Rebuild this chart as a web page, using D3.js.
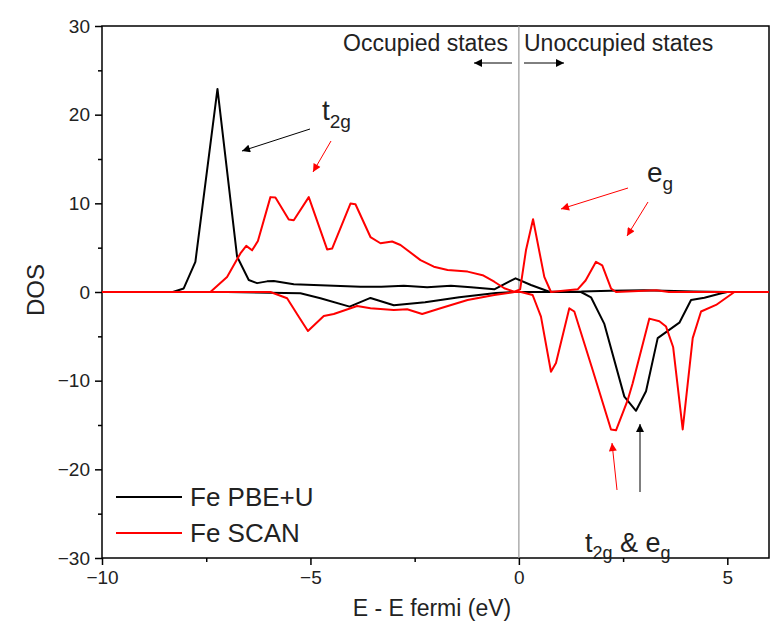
<!DOCTYPE html>
<html><head><meta charset="utf-8">
<script src="https://cdn.jsdelivr.net/npm/d3@7"></script>
<style>body{margin:0;background:#fff;} svg{display:block;} text{font-family:"Liberation Sans",Arial,sans-serif;}</style>
</head><body><svg id="c" width="771" height="643"></svg>
<script>
// ---- data (energy in eV, DOS) ----
const pbeUpE = [-10,-8.3,-8.04,-7.76,-7.23,-6.76,-6.48,-6.28,-6.04,-5.88,-5.4,-4.76,-3.8,-3.3,-2.76,-2.2,-1.63,-1.15,-0.59,-0.08,0.29,0.73,1.5,2.2,3.0,3.5,4.2,5.0,6];
const pbeUp  = [0,0,0.4,3.4,22.9,4.0,1.35,1.0,1.2,1.24,0.87,0.75,0.6,0.6,0.71,0.53,0.71,0.53,0.3,1.54,0.79,0.03,0.05,0.15,0.2,0.15,0.05,0,0];
const pbeDnE = [-10,-7.0,-5.24,-4.76,-4.06,-3.56,-3.0,-2.25,-1.43,-0.55,-0.1,1.49,1.73,2.05,2.53,2.81,3.05,3.33,3.85,4.13,4.45,4.86,5.0,6];
const pbeDn  = [0,0,-0.15,-0.7,-1.65,-0.67,-1.5,-1.16,-0.58,-0.1,0,0,-0.6,-3.6,-11.8,-13.4,-11.2,-5.2,-3.46,-0.9,-0.64,-0.15,0,0];
const scanUpE = [-10,-7.4,-7.0,-6.68,-6.54,-6.4,-6.26,-5.96,-5.84,-5.52,-5.4,-5.04,-4.6,-4.48,-4.04,-3.92,-3.56,-3.32,-3.04,-2.84,-2.36,-2.04,-1.71,-1.23,-0.87,-0.59,-0.35,-0.11,0.03,0.17,0.34,0.61,0.77,1.41,1.6,1.85,2.0,2.21,2.33,3.0,3.3,3.6,6];
const scanUp  = [0,0,1.7,4.35,5.2,4.7,5.75,10.7,10.65,8.18,8.1,10.7,4.8,4.9,9.98,9.9,6.2,5.5,5.7,5.3,3.6,2.85,2.48,2.3,1.9,1.16,0.42,0.03,0.3,4.7,8.2,1.7,0,0.3,1.3,3.4,3.0,0.4,0,0.15,0.2,0,0];
const scanDnE = [-10,-5.96,-5.56,-5.28,-5.06,-4.68,-4.44,-3.88,-3.56,-3.0,-2.68,-2.32,-1.88,-1.23,-0.59,-0.11,0.05,0.33,0.53,0.77,0.89,1.21,1.33,1.77,2.21,2.33,2.61,2.73,3.13,3.37,3.53,3.7,3.93,4.17,4.37,4.73,5.17,6];
const scanDn  = [0,0,-0.7,-2.8,-4.4,-2.7,-2.48,-1.58,-1.84,-2.03,-1.95,-2.48,-1.84,-0.9,-0.34,0,0,-0.34,-2.78,-9.0,-8.0,-1.84,-2.2,-8.8,-15.5,-15.6,-12.2,-10.3,-3.0,-3.3,-3.9,-6.2,-15.5,-5.2,-2.2,-1.46,0,0];
const xTicks = [-10,-5,0,5];
const yTicks = [-30,-20,-10,0,10,20,30];
const seriesNames = ["Fe PBE+U","Fe SCAN"];
const seriesColors = ["#000000","#ff0000"];

const svg = d3.select("#c");
const L=102,R=769,T=26,B=558;
const x = d3.scaleLinear().domain([-10,6]).range([L,R]);
const y = d3.scaleLinear().domain([-30,30]).range([B,T]);

// frame
svg.append("rect").attr("x",L).attr("y",T).attr("width",R-L).attr("height",B-T)
  .attr("fill","none").attr("stroke","#000").attr("stroke-width",1.5);
// fermi line
svg.append("line").attr("x1",x(0)).attr("x2",x(0)).attr("y1",T).attr("y2",B)
  .attr("stroke","#999").attr("stroke-width",1.2);

const fmt = d => d<0 ? "\u2212"+Math.abs(d) : ""+d;
// axes
const xa = svg.append("g").attr("transform",`translate(0,${B})`)
  .call(d3.axisBottom(x).tickValues(xTicks).tickFormat(fmt).tickSize(7).tickPadding(6));
const xm = svg.append("g").attr("transform",`translate(0,${B})`)
  .call(d3.axisBottom(x).tickValues([-7.5,-2.5,2.5]).tickFormat("").tickSize(4));
const ya = svg.append("g").attr("transform",`translate(${L},0)`)
  .call(d3.axisLeft(y).tickValues(yTicks).tickFormat(fmt).tickSize(7).tickPadding(5));
const ym = svg.append("g").attr("transform",`translate(${L},0)`)
  .call(d3.axisLeft(y).tickValues([-25,-15,-5,5,15,25]).tickFormat("").tickSize(4));
[xa,xm,ya,ym].forEach(g=>{g.select(".domain").remove();
  g.selectAll("line").attr("stroke","#000").attr("stroke-width",1.5);
  g.selectAll("text").attr("font-size",19).attr("fill","#222").style("font-family","Liberation Sans, Arial, sans-serif");});

svg.append("text").attr("x",432).attr("y",616).attr("text-anchor","middle").attr("font-size",23).attr("fill","#222").text("E - E fermi (eV)");
svg.append("text").attr("transform","translate(44,290) rotate(-90)").attr("text-anchor","middle").attr("font-size",24).attr("fill","#222").text("DOS");

// curves
const line = d3.line().x(d=>x(d[0])).y(d=>y(d[1]));
const zip = (a,b)=>a.map((v,i)=>[v,b[i]]);
const curves = [
  [zip(pbeUpE,pbeUp),0],[zip(pbeDnE,pbeDn),0],
  [zip(scanUpE,scanUp),1],[zip(scanDnE,scanDn),1]];
const plot = svg.append("g");
plot.selectAll("path").data(curves).join("path")
  .attr("d",d=>line(d[0])).attr("fill","none")
  .attr("stroke",d=>seriesColors[d[1]]).attr("stroke-width",2).attr("stroke-linejoin","round");

// legend
seriesNames.forEach((n,i)=>{
  const ly = 497 + i*36;
  svg.append("line").attr("x1",116).attr("x2",182).attr("y1",ly).attr("y2",ly).attr("stroke",seriesColors[i]).attr("stroke-width",2);
  svg.append("text").attr("x",190).attr("y",ly+9).attr("font-size",26).attr("fill","#222").text(n);
});

// arrow markers
const defs = svg.append("defs");
function marker(id,color){
  defs.append("marker").attr("id",id).attr("viewBox","0 0 10 10").attr("refX",10).attr("refY",5)
   .attr("markerWidth",10).attr("markerHeight",8).attr("markerUnits","userSpaceOnUse").attr("orient","auto")
   .append("path").attr("d","M0,0 L10,5 L0,10 z").attr("fill",color);
}
marker("ab","#000"); marker("ar","#ff0000");
function arrow(x1,y1,x2,y2,c){
  svg.append("line").attr("x1",x1).attr("y1",y1).attr("x2",x2).attr("y2",y2)
   .attr("stroke",c==="r"?"#ff0000":"#000").attr("stroke-width",1)
   .attr("marker-end",c==="r"?"url(#ar)":"url(#ab)");
}
// annotations
svg.append("text").attr("x",508).attr("y",51).attr("text-anchor","end").attr("font-size",23).attr("fill","#222").text("Occupied states");
svg.append("text").attr("x",524).attr("y",51).attr("text-anchor","start").attr("font-size",23).attr("fill","#222").text("Unoccupied states");
arrow(512,63,474,63,"b");
arrow(524,63,564,63,"b");

function sub(xp,yp,main,s,size){
  const t = svg.append("text").attr("x",xp).attr("y",yp).attr("font-size",size).attr("fill","#222");
  t.append("tspan").text(main);
  t.append("tspan").attr("font-size",size*0.68).attr("dy",size*0.28).text(s);
  return t;
}
sub(322,120,"t","2g",28);
arrow(310,129,242,151,"b");
arrow(331,141,313,172,"r");
sub(647,182,"e","g",28);
arrow(628,188,561,209,"r");
arrow(648,202,627,236,"r");
// bottom label
const tb = svg.append("text").attr("x",585).attr("y",552).attr("font-size",27).attr("fill","#222");
tb.append("tspan").text("t");
tb.append("tspan").attr("font-size",18).attr("dy",7).text("2g");
tb.append("tspan").attr("dy",-7).text(" & e");
tb.append("tspan").attr("font-size",18).attr("dy",7).text("g");
arrow(617,490,612,443,"r");
arrow(640,492,640,424,"b");
</script></body></html>
